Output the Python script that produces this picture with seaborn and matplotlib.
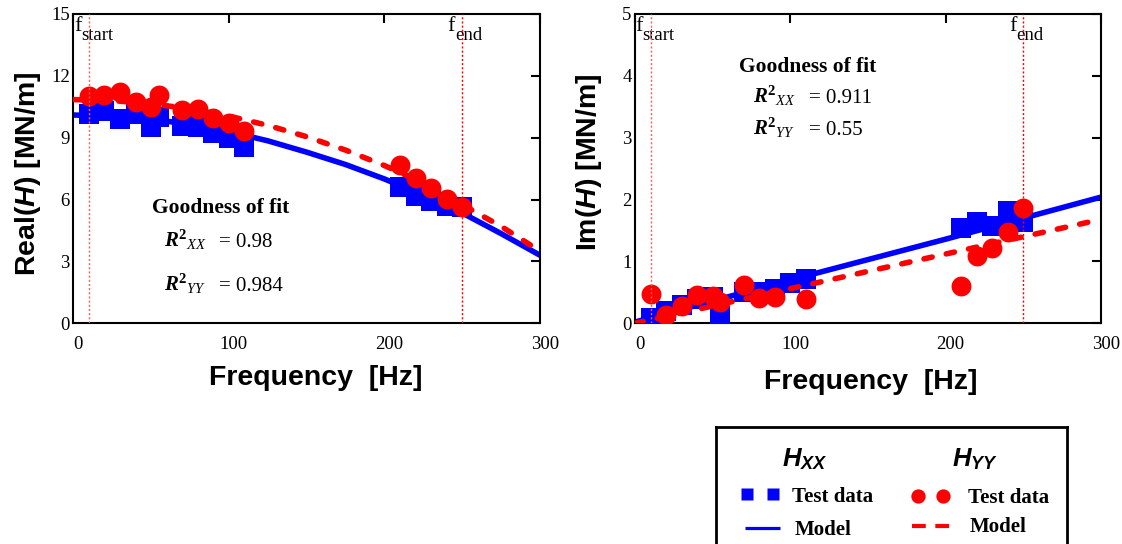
import matplotlib
matplotlib.use('Agg')
import matplotlib.pyplot as plt
import seaborn as sns
from matplotlib.transforms import ScaledTranslation, blended_transform_factory

# ---------------- data ----------------
freq_test = [10, 20, 30, 40, 50, 55, 70, 80, 90, 100, 110, 210, 220, 230, 240, 250]
re_xx_test = [10.15, 10.3, 9.9, 10.15, 9.5, 10.0, 9.55, 9.5, 9.25, 9.0, 8.57,
              6.62, 6.18, 5.95, 5.69, 5.65]
re_yy_test = [11.0, 11.05, 11.2, 10.75, 10.5, 11.05, 10.35, 10.4, 9.95, 9.7, 9.35,
              7.7, 7.05, 6.55, 6.05, 5.65]
im_xx_test = [0.08, 0.2, 0.3, 0.4, 0.42, 0.12, 0.5, 0.5, 0.55, 0.65, 0.72,
              1.54, 1.63, 1.57, 1.82, 1.64]
freq_im_yy = [10, 20, 30, 40, 50, 55, 70, 80, 90, 110, 210, 220, 230, 240, 250]
im_yy_test = [0.48, 0.13, 0.28, 0.45, 0.44, 0.34, 0.62, 0.41, 0.42, 0.40,
              0.60, 1.08, 1.22, 1.47, 1.87]

freq_model_re = [0, 25, 50, 75, 100, 125, 150, 175, 200, 225, 250, 275, 300]
re_xx_model = [10.1, 10.05, 9.9, 9.65, 9.3, 8.85, 8.3, 7.7, 7.0, 6.2, 5.35, 4.35, 3.3]
re_yy_model = [10.85, 10.8, 10.65, 10.4, 10.05, 9.6, 9.05, 8.4, 7.65, 6.8, 5.75, 4.7, 3.5]
freq_model_im = [0, 50, 100, 150, 200, 250, 300]
im_xx_model = [0.02, 0.36, 0.70, 1.03, 1.36, 1.70, 2.04]
im_yy_model = [0.0, 0.28, 0.56, 0.84, 1.12, 1.40, 1.68]

f_start, f_end = 10, 250
r2_re = ['0.98', '0.984']
r2_im = ['0.911', '0.55']
x_ticks = [0, 100, 200, 300]
re_ticks = [0, 3, 6, 9, 12, 15]
im_ticks = [0, 1, 2, 3, 4, 5]

BLUE = '#0000ff'
RED = '#ff0000'
SERIF = 'Liberation Serif'
SANS = 'Liberation Sans'

sns.set_style('white')
plt.rcParams.update({
    'font.family': [SERIF, 'DejaVu Serif'],
    'mathtext.fontset': 'custom',
    'mathtext.rm': SERIF,
    'mathtext.it': SERIF + ':italic',
    'mathtext.bf': SERIF + ':bold',
    'mathtext.bfit': SANS + ':italic:bold',
    'mathtext.cal': SERIF + ':italic:bold',
    'mathtext.sf': SANS,
    'axes.edgecolor': 'black',
    'axes.linewidth': 1.5,
    'text.color': 'black',
    'axes.labelcolor': 'black',
    'xtick.color': 'black',
    'ytick.color': 'black',
})

W, H = 1122, 544
fig = plt.figure(figsize=(W / 100, H / 100), dpi=100)


def px_axes(x0, y0, x1, y1):
    return fig.add_axes([x0 / W, 1 - y1 / H, (x1 - x0) / W, (y1 - y0) / H])


ax1 = px_axes(73.3, 14, 540, 323.3)
ax2 = px_axes(635, 14, 1101, 323.3)


def panel(ax, fx, yx, fy, yy, mfx, mx, mfy, my, ymax, yticks, ylabel, ylab_y,
          xlab_y, xlab_x, texts):
    sns.lineplot(x=mfx, y=mx, ax=ax, color=BLUE, lw=4, zorder=2, errorbar=None)
    sns.scatterplot(x=fx, y=yx, ax=ax, marker='s', s=205, color=BLUE,
                    linewidth=0, zorder=3)
    sns.lineplot(x=mfy, y=my, ax=ax, color=RED, lw=4, zorder=4, errorbar=None)
    ln = ax.get_lines()[-1]
    ln.set_dashes((1.5, 2.6))
    ln.set_dash_capstyle('round')
    sns.scatterplot(x=fy, y=yy, ax=ax, marker='o', s=205, color=RED,
                    linewidth=0, zorder=5)

    ax.axvline(f_start, color='#ff5c5c', lw=1, ls=(0, (1.5, 1.5)), zorder=6)
    ax.axvline(f_end, color=RED, lw=1, ls=(0, (1.5, 1.5)), zorder=6)

    ax.set_xlim(0, 300)
    ax.set_ylim(0, ymax)
    ax.set_xticks(x_ticks)
    ax.set_yticks(yticks)
    ax.tick_params(axis='both', direction='in', length=6.5, width=1.5,
                   top=True, right=True, labelsize=13.5, colors='black')
    ax.tick_params(axis='x', pad=9)
    ax.tick_params(axis='y', pad=2.5)
    for lab in ax.get_xticklabels():
        lab.set_transform(lab.get_transform() +
                          ScaledTranslation(0.05, 0, fig.dpi_scale_trans))
    for sp in ax.spines.values():
        sp.set_linewidth(1.5)
        sp.set_color('black')

    ax.set_ylabel(ylabel, family=SANS, fontweight='bold', fontsize=20.5,
                  va='center', color='black')
    ax.yaxis.set_label_coords(-0.098, ylab_y)
    ax.set_xlabel('Frequency  [Hz]', family=SANS, fontweight='bold',
                  fontsize=20.5, va='center', color='black')
    ax.xaxis.set_label_coords(xlab_x, xlab_y)

    # f_start / f_end labels
    tr = blended_transform_factory(ax.transData, ax.transAxes)
    for xpos, sub in [(0.3, 'start'), (f_end - 9.3, 'end')]:
        ax.text(xpos, 0.945, 'f', transform=tr, fontsize=16, va='baseline',
                ha='left', family=SERIF)
        ax.annotate(sub, xy=(xpos, 0.945), xycoords=tr, xytext=(5.2, -6.8),
                    textcoords='offset points', fontsize=13.5, va='baseline',
                    ha='left', family=SERIF)

    (gx, gy), (rx, ex, ry1, ry2), (v1, v2) = texts
    ax.text(gx, gy, 'Goodness of fit', fontsize=15.5, fontweight='bold',
            va='baseline', family=SERIF)
    ax.text(rx, ry1, r'$\mathcal{R}^{\mathbf{2}}{}_{\mathit{XX}}$',
            fontsize=15, va='baseline')
    ax.text(ex, ry1, '= ' + v1, fontsize=15, va='baseline', family=SERIF)
    ax.text(rx, ry2, r'$\mathcal{R}^{\mathbf{2}}{}_{\mathit{YY}}$',
            fontsize=15, va='baseline')
    ax.text(ex, ry2, '= ' + v2, fontsize=15, va='baseline', family=SERIF)


panel(ax1, freq_test, re_xx_test, freq_test, re_yy_test,
      freq_model_re, re_xx_model, freq_model_re, re_yy_model,
      15, re_ticks, r'Real($\mathbfit{H}$) [MN/m]', 0.484, -0.177, 0.519,
      ((50.4, 5.36), (58.4, 93.9, 3.72, 1.59), tuple(r2_re)))
panel(ax2, freq_test, im_xx_test, freq_im_yy, im_yy_test,
      freq_model_im, im_xx_model, freq_model_im, im_yy_model,
      5, im_ticks, r'Im($\mathbfit{H}$) [MN/m]', 0.52, -0.19, 0.506,
      ((67.1, 4.07), (75.9, 111.8, 3.56, 3.04), tuple(r2_im)))

# ---------------- legend box (pixel coordinates) ----------------
axl = fig.add_axes([716 / W, 1 - 650 / H, (1067 - 716) / W, (650 - 427) / H])
axl.set_xlim(716, 1067)
axl.set_ylim(650, 427)
axl.set_xticks([])
axl.set_yticks([])
for sp in axl.spines.values():
    sp.set_visible(True)
    sp.set_linewidth(2)
    sp.set_color('black')

axl.text(805, 466, r'$\mathbfit{H}_{\mathbfit{XX}}$', ha='center',
         va='baseline', fontsize=18.5)
axl.text(975, 466, r'$\mathbfit{H}_{\mathbfit{YY}}$', ha='center',
         va='baseline', fontsize=18.5)
axl.plot([746.7, 773.3], [494, 494], ls='none', marker='s', ms=8.8,
         color=BLUE, mec='none')
axl.plot([918, 943], [496, 496], ls='none', marker='o', ms=10.3,
         color=RED, mec='none')
axl.plot([745, 780], [528, 528], color=BLUE, lw=2.3, solid_capstyle='butt')
axl.plot([912, 955], [526, 526], color=RED, lw=3, dashes=(3.3, 2.3),
         dash_capstyle='butt')
axl.text(792, 502, 'Test data', fontsize=15, fontweight='bold',
         va='baseline', family=SERIF)
axl.text(795, 535, 'Model', fontsize=15, fontweight='bold',
         va='baseline', family=SERIF)
axl.text(968, 503, 'Test data', fontsize=15, fontweight='bold',
         va='baseline', family=SERIF)
axl.text(970, 532, 'Model', fontsize=15, fontweight='bold',
         va='baseline', family=SERIF)

fig.savefig('out.png', dpi=100)
